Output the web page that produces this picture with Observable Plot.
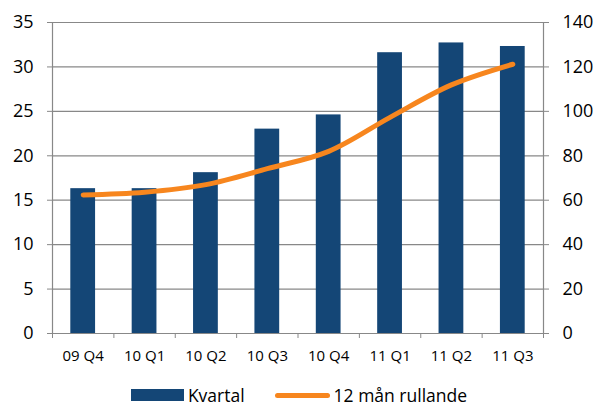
<!DOCTYPE html>
<html>
<head>
<meta charset="utf-8">
<script src="https://cdn.jsdelivr.net/npm/d3@7"></script>
<script src="https://cdn.jsdelivr.net/npm/@observablehq/plot@0.6"></script>
<style>
  body { margin: 0; background: #fff; font-family: "Open Sans", sans-serif; }
  #chart { position: relative; width: 598px; height: 407px; overflow: hidden; }
  #chart svg { position: absolute; left: 0; top: 0; }
  .legend { position: absolute; left: 0; top: 385px; width: 598px; display: flex;
            justify-content: center; align-items: center; font-size: 17.5px; color: #000; line-height: 20px; }
  .legend .item { display: flex; align-items: center; }
  .legend .bar { width: 53px; height: 12px; background: #144676; margin-right: 4px; }
  .legend .line { width: 55px; height: 5px; border-radius: 3px; background: #F7861E; margin-right: 4px; margin-left: 30px; }
</style>
</head>
<body>
<div id="chart"></div>
<script>
// Quarterly values (left axis) and rolling 12-month total (right axis)
const quarters = ["09 Q4", "10 Q1", "10 Q2", "10 Q3", "10 Q4", "11 Q1", "11 Q2", "11 Q3"];
const kvartal = [16.3, 16.3, 18.1, 23.0, 24.6, 31.6, 32.7, 32.3];
const rullande = [62.4, 63.6, 67.0, 74.2, 82.0, 97.3, 111.9, 121.2];
const leftTicks = [0, 5, 10, 15, 20, 25, 30, 35];
const rightTicks = [0, 20, 40, 60, 80, 100, 120, 140];
const seriesNames = ["Kvartal", "12 mån rullande"];

// The right axis runs 0–140 against 0–35 on the left
const ratio = rightTicks[rightTicks.length - 1] / leftTicks[leftTicks.length - 1];
const n = quarters.length;
const idx = d3.range(n);
const grid = "#888888";

const plot = Plot.plot({
  width: 598,
  height: 380,
  marginLeft: 52,
  marginRight: 55,
  marginTop: 22,
  marginBottom: 47,
  style: { fontFamily: "Open Sans, sans-serif", fontSize: "18px", color: "#000", background: "#fff", overflow: "visible" },
  x: { domain: [0, n], axis: null },
  y: { domain: [0, leftTicks[leftTicks.length - 1]], axis: null },
  marks: [
    Plot.ruleY(leftTicks, { stroke: grid, strokeWidth: 1.2 }),
    Plot.ruleX([0, n], { stroke: grid, strokeWidth: 1.2 }),
    Plot.rectY(idx, {
      x1: i => i, x2: i => i + 1, y1: 0, y2: i => kvartal[i],
      fill: "#144676", insetLeft: 18.3, insetRight: 18.3
    }),
    Plot.line(idx, {
      x: i => i + 0.5, y: i => rullande[i] / ratio,
      stroke: "#F7861E", strokeWidth: 5, curve: "catmull-rom",
      strokeLinecap: "round", strokeLinejoin: "round"
    }),
    Plot.axisY(leftTicks, { anchor: "left", tickSize: 5, tickPadding: 14, stroke: grid, fill: "#000", fontSize: 18 }),
    Plot.axisY(leftTicks, {
      anchor: "right", tickSize: 5, tickPadding: 14, stroke: grid, fill: "#000", fontSize: 18,
      tickFormat: d => rightTicks[leftTicks.indexOf(d)]
    }),
    Plot.axisX(d3.range(n + 1), { anchor: "bottom", tickSize: 5, stroke: grid, tickFormat: () => "" }),
    Plot.axisX(idx.map(i => i + 0.5), {
      anchor: "bottom", tickSize: 0, tickPadding: 17, fontSize: 15, fill: "#000",
      tickFormat: d => quarters[Math.floor(d)]
    })
  ]
});

const chart = document.getElementById("chart");
chart.appendChild(plot);

const legend = document.createElement("div");
legend.className = "legend";
legend.innerHTML =
  `<div class="item"><span class="bar"></span><span>${seriesNames[0]}</span></div>` +
  `<div class="item"><span class="line"></span><span>${seriesNames[1]}</span></div>`;
chart.appendChild(legend);
</script>
</body>
</html>
